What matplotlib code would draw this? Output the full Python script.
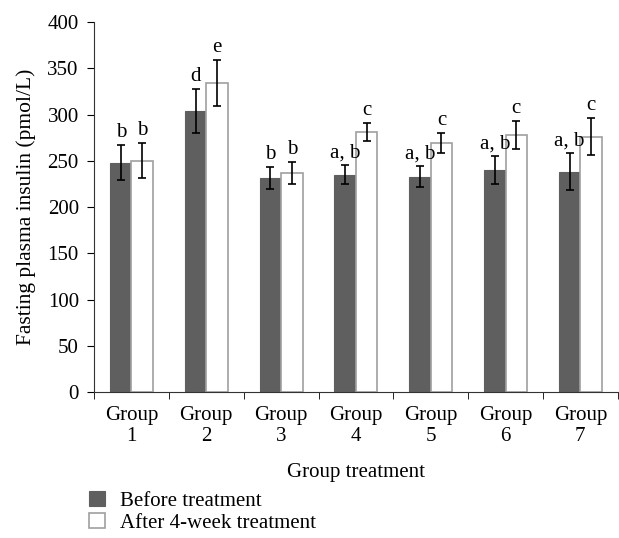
import numpy as np
import matplotlib.pyplot as plt

plt.rcParams['font.family'] = ['Liberation Serif', 'DejaVu Serif']

groups = ["Group\n1", "Group\n2", "Group\n3", "Group\n4", "Group\n5", "Group\n6", "Group\n7"]
before = [248, 304, 231, 235, 233, 240, 238]
before_err = [19, 24, 12, 10, 11, 15, 20]
after = [250, 334, 237, 281, 269, 278, 276]
after_err = [19, 25, 12, 10, 11, 15, 20]
before_lbl = ["b", "d", "b", "a, b", "a, b", "a, b", "a, b"]
after_lbl = ["b", "e", "b", "c", "c", "c", "c"]

fig = plt.figure(figsize=(6.19, 5.38), dpi=100)
ax = fig.add_axes([0.152, 0.2714, 0.846, 0.6876])

x = np.arange(len(groups))
w = 0.287
ax.bar(x - w/2, before, w, color='#5f5f5f', edgecolor='#5f5f5f', linewidth=0.8,
       label='Before treatment')
ax.bar(x + w/2, after, w, color='white', edgecolor='#a0a0a0', linewidth=1.2,
       label='After 4-week treatment')
ax.errorbar(x - w/2, before, yerr=before_err, fmt='none', ecolor='black',
            elinewidth=1.2, capsize=3, capthick=1.2)
ax.errorbar(x + w/2, after, yerr=after_err, fmt='none', ecolor='black',
            elinewidth=1.2, capsize=3, capthick=1.2)

for i in range(len(groups)):
    ax.text(x[i] - w/2, before[i] + before_err[i] + 3, before_lbl[i],
            ha='center', va='bottom', fontsize=15)
    ax.text(x[i] + w/2, after[i] + after_err[i] + 3, after_lbl[i],
            ha='center', va='bottom', fontsize=15)

ax.set_xlim(-0.5, 6.5)
ax.set_ylim(0, 400)
ax.set_yticks(range(0, 401, 50))
ax.set_xticks(x)
ax.set_xticklabels(groups, fontsize=15, linespacing=1.15)
ax.tick_params(axis='x', which='major', length=0, pad=10)
ax.set_xticks(np.arange(-0.5, 7, 1), minor=True)
ax.tick_params(axis='x', which='minor', length=5, direction='out')
ax.tick_params(axis='y', labelsize=15, length=5, direction='out', pad=6)
for s in ['top', 'right']:
    ax.spines[s].set_visible(False)
ax.spines['left'].set_color('#333333')
ax.spines['bottom'].set_color('#333333')

ax.set_ylabel('Fasting plasma insulin (pmol/L)', fontsize=15.5, labelpad=8)
ax.set_xlabel('Group treatment', fontsize=15, labelpad=12)

ax.legend(loc='upper left', bbox_to_anchor=(-0.025, -0.245), frameon=False,
          fontsize=15, handlelength=0.75, handleheight=0.75, labelspacing=0.1,
          handletextpad=0.7, borderaxespad=0)

fig.savefig('out.png', dpi=100)
